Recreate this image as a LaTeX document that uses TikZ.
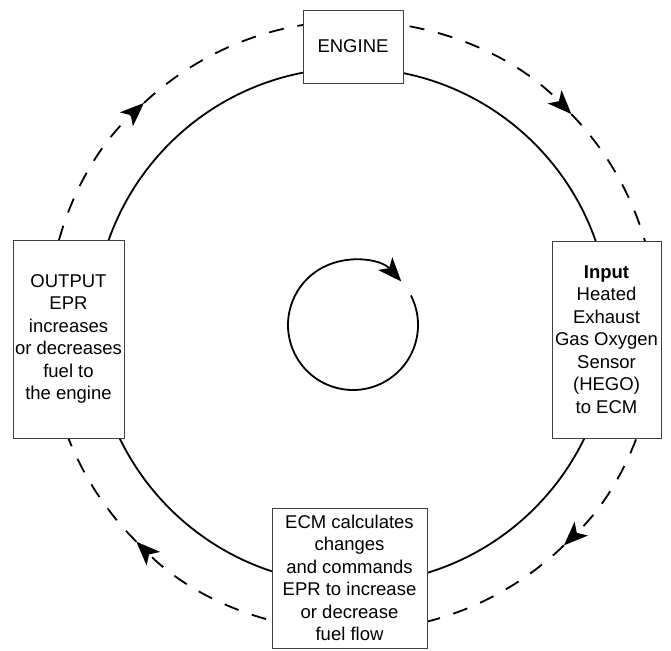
\documentclass[tikz,border=0pt]{standalone}
\usepackage{fontspec}
\setmainfont{Liberation Sans}
\usetikzlibrary{arrows.meta,calc}
\begin{document}
\begin{tikzpicture}[x=1pt,y=1pt,
  boxstyle/.style={draw=black!75, line width=0.8pt, fill=white, align=center,
    inner sep=0pt, font=\fontsize{18.5}{22.5}\selectfont},
  ring/.style={line width=1.8pt, black},
  dashring/.style={line width=1.8pt, black, dash pattern=on 15pt off 14pt},
  arrowtip/.style={-{Stealth[length=24pt,width=19pt,inset=6pt]}}
]
\useasboundingbox (0,0) rectangle (671,650);
\coordinate (c) at (352,324);
\coordinate (ci) at (353,325);
% inner rotating arrow
\draw[ring, arrowtip] ($(ci)+(27:65)$) arc[start angle=27, end angle=-318, radius=65];
% solid ring
\draw[ring] (c) circle[radius=258];
% dashed ring with arrows (clockwise)
\draw[dashring, arrowtip] ($(c)+(90:305)$) arc[start angle=90, end angle=44, radius=305];
\draw[dashring] ($(c)+(44:305)$) arc[start angle=44, end angle=0, radius=305];
\draw[dashring, arrowtip] ($(c)+(0:305)$) arc[start angle=0, end angle=-46, radius=305];
\draw[dashring] ($(c)+(-46:305)$) arc[start angle=-46, end angle=-90, radius=305];
\draw[dashring, arrowtip] ($(c)+(-90:305)$) arc[start angle=-90, end angle=-135, radius=305];
\draw[dashring] ($(c)+(-135:305)$) arc[start angle=-135, end angle=-180, radius=305];
\draw[dashring, arrowtip] ($(c)+(180:305)$) arc[start angle=180, end angle=133, radius=305];
\draw[dashring] ($(c)+(133:305)$) arc[start angle=133, end angle=90, radius=305];
% boxes
\node[boxstyle, minimum width=100pt, minimum height=73pt] (engine) at (353,603.5) {ENGINE};
\node[boxstyle, minimum width=109pt, minimum height=197pt] (input) at (606.5,310.5)
  {\textbf{Input}\\Heated\\Exhaust\\Gas Oxygen\\Sensor\\(HEGO)\\to ECM};
\node[boxstyle, minimum width=111pt, minimum height=198pt] (output) at (68.5,311)
  {OUTPUT\\EPR\\increases\\or decreases\\fuel to\\the engine};
\node[boxstyle, minimum width=155pt, minimum height=140pt] (ecm) at (349.5,72)
  {ECM calculates\\changes\\and commands\\EPR to increase\\or decrease\\fuel flow};
\end{tikzpicture}
\end{document}
